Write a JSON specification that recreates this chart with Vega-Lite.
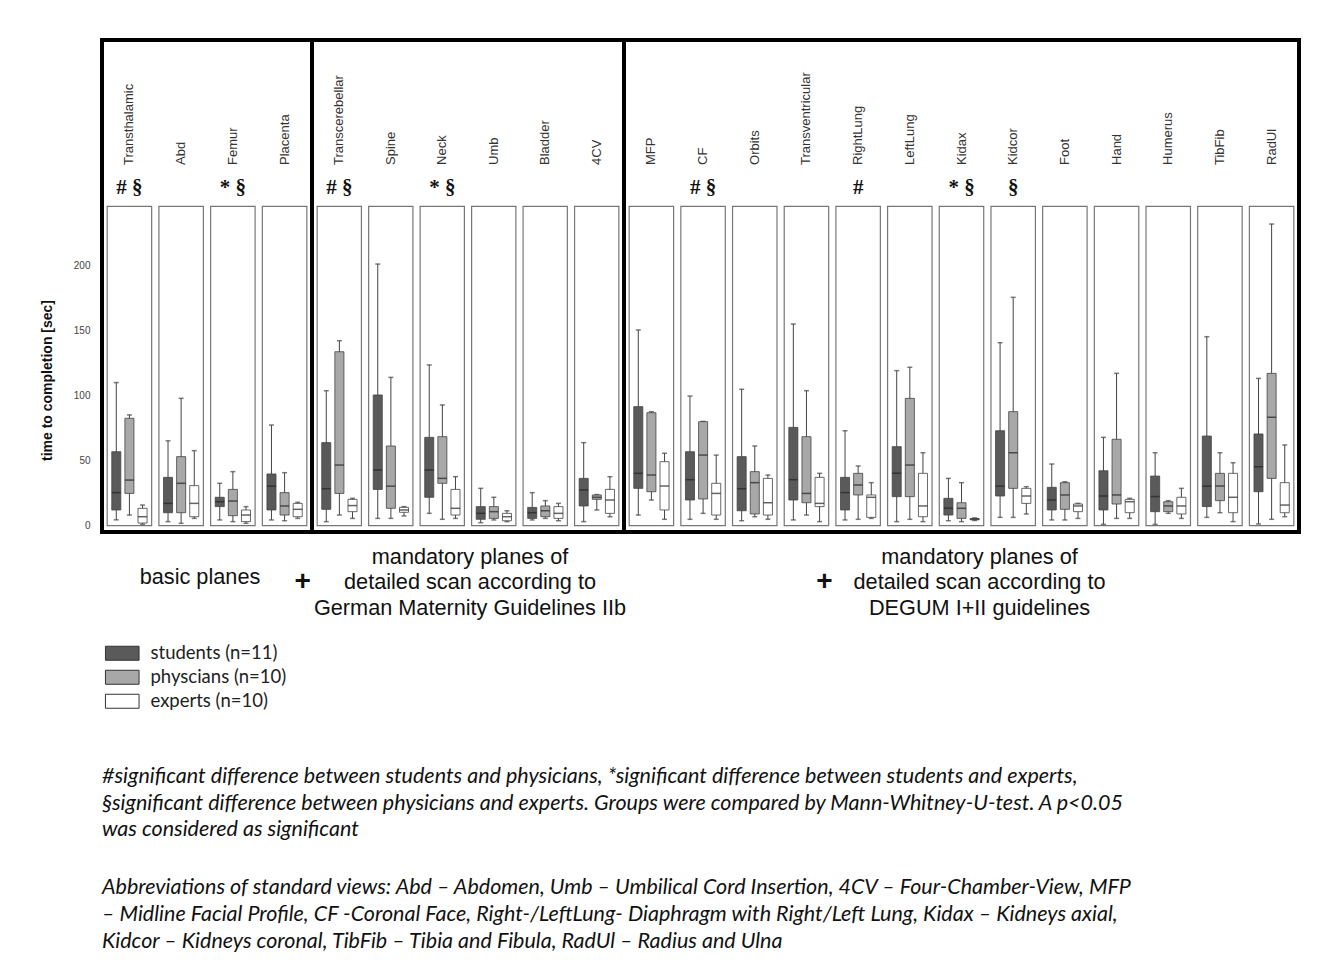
{
"$schema": "https://vega.github.io/schema/vega-lite/v6.json",
"padding": {"left": 38, "top": 38, "right": 5, "bottom": 5},
"background": "#ffffff",
"config": {"font": "Liberation Sans", "view": {"stroke": "#000000", "strokeWidth": 4}},
"datasets": {
"planes": [
{"p":"Transthalamic","s":"basic","sig":"# §"},{"p":"Abd","s":"basic","sig":""},{"p":"Femur","s":"basic","sig":"* §"},{"p":"Placenta","s":"basic","sig":""},
{"p":"Transcerebellar","s":"german","sig":"# §"},{"p":"Spine","s":"german","sig":""},{"p":"Neck","s":"german","sig":"* §"},{"p":"Umb","s":"german","sig":""},{"p":"Bladder","s":"german","sig":""},{"p":"4CV","s":"german","sig":""},
{"p":"MFP","s":"degum","sig":""},{"p":"CF","s":"degum","sig":"# §"},{"p":"Orbits","s":"degum","sig":""},{"p":"Transventricular","s":"degum","sig":""},{"p":"RightLung","s":"degum","sig":"#"},{"p":"LeftLung","s":"degum","sig":""},{"p":"Kidax","s":"degum","sig":"* §"},{"p":"Kidcor","s":"degum","sig":"§"},{"p":"Foot","s":"degum","sig":""},{"p":"Hand","s":"degum","sig":""},{"p":"Humerus","s":"degum","sig":""},{"p":"TibFib","s":"degum","sig":""},{"p":"RadUl","s":"degum","sig":""}
],
"boxes": [
{"p":"Transthalamic","s":"basic","g":"students (n=11)","lo":4,"q1":11.6,"md":25,"q3":56.6,"hi":110},
{"p":"Transthalamic","s":"basic","g":"physcians (n=10)","lo":7.7,"q1":24.4,"md":34.7,"q3":82.4,"hi":85},
{"p":"Transthalamic","s":"basic","g":"experts (n=10)","lo":0.5,"q1":1.5,"md":6.4,"q3":12.9,"hi":15.4},
{"p":"Abd","s":"basic","g":"students (n=11)","lo":2.6,"q1":9.5,"md":16.7,"q3":36.8,"hi":65},
{"p":"Abd","s":"basic","g":"physcians (n=10)","lo":1.3,"q1":9.5,"md":32.2,"q3":52.8,"hi":97.8},
{"p":"Abd","s":"basic","g":"experts (n=10)","lo":5.1,"q1":6.4,"md":16.7,"q3":30.4,"hi":57.4},
{"p":"Femur","s":"basic","g":"students (n=11)","lo":3.9,"q1":14.2,"md":18,"q3":21.4,"hi":32.2},
{"p":"Femur","s":"basic","g":"physcians (n=10)","lo":2.6,"q1":7.2,"md":18.5,"q3":27.5,"hi":41.2},
{"p":"Femur","s":"basic","g":"experts (n=10)","lo":1.3,"q1":2.6,"md":7.7,"q3":11.6,"hi":14.2},
{"p":"Placenta","s":"basic","g":"students (n=11)","lo":3.9,"q1":11.6,"md":30,"q3":39.4,"hi":77.2},
{"p":"Placenta","s":"basic","g":"physcians (n=10)","lo":3.3,"q1":7.7,"md":14.7,"q3":25,"hi":40.4},
{"p":"Placenta","s":"basic","g":"experts (n=10)","lo":5.1,"q1":6.4,"md":12.1,"q3":16.7,"hi":17.5},
{"p":"Transcerebellar","s":"german","g":"students (n=11)","lo":2.6,"q1":12.1,"md":28,"q3":63.6,"hi":103.7},
{"p":"Transcerebellar","s":"german","g":"physcians (n=10)","lo":7.7,"q1":24.4,"md":46.3,"q3":133.8,"hi":142.3},
{"p":"Transcerebellar","s":"german","g":"experts (n=10)","lo":5.1,"q1":10.3,"md":15,"q3":19.8,"hi":20.6},
{"p":"Spine","s":"german","g":"students (n=11)","lo":5.1,"q1":27.5,"md":42.5,"q3":100.4,"hi":201.5},
{"p":"Spine","s":"german","g":"physcians (n=10)","lo":5.1,"q1":12.9,"md":30,"q3":61,"hi":114},
{"p":"Spine","s":"german","g":"experts (n=10)","lo":7,"q1":9.8,"md":11.6,"q3":13.6,"hi":14.2},
{"p":"Neck","s":"german","g":"students (n=11)","lo":9,"q1":21.4,"md":42.5,"q3":67.7,"hi":123.6},
{"p":"Neck","s":"german","g":"physcians (n=10)","lo":4.4,"q1":32.2,"md":36,"q3":68.2,"hi":92.7},
{"p":"Neck","s":"german","g":"experts (n=10)","lo":5.1,"q1":7.7,"md":12.9,"q3":27.5,"hi":37.3},
{"p":"Umb","s":"german","g":"students (n=11)","lo":1.8,"q1":4.4,"md":9,"q3":14.2,"hi":28.3},
{"p":"Umb","s":"german","g":"physcians (n=10)","lo":3.9,"q1":5.1,"md":10.3,"q3":14.2,"hi":21.4},
{"p":"Umb","s":"german","g":"experts (n=10)","lo":2.6,"q1":3.3,"md":6.4,"q3":9,"hi":11},
{"p":"Bladder","s":"german","g":"students (n=11)","lo":3.9,"q1":5.1,"md":9.5,"q3":13.6,"hi":25},
{"p":"Bladder","s":"german","g":"physcians (n=10)","lo":5.1,"q1":6.4,"md":11,"q3":14.7,"hi":18.8},
{"p":"Bladder","s":"german","g":"experts (n=10)","lo":3.3,"q1":5.1,"md":9,"q3":14.2,"hi":16.7},
{"p":"4CV","s":"german","g":"students (n=11)","lo":2.6,"q1":14.7,"md":27,"q3":36,"hi":63.6},
{"p":"4CV","s":"german","g":"physcians (n=10)","lo":11.6,"q1":19.8,"md":21.4,"q3":23.2,"hi":23.5},
{"p":"4CV","s":"german","g":"experts (n=10)","lo":6.4,"q1":9,"md":19.3,"q3":27.5,"hi":37.3},
{"p":"MFP","s":"degum","g":"students (n=11)","lo":7.7,"q1":28.3,"md":39.9,"q3":91.4,"hi":150.6},
{"p":"MFP","s":"degum","g":"physcians (n=10)","lo":19.3,"q1":25.7,"md":38.6,"q3":86.7,"hi":87.5},
{"p":"MFP","s":"degum","g":"experts (n=10)","lo":4.4,"q1":11.6,"md":30.1,"q3":48.9,"hi":55.4},
{"p":"CF","s":"degum","g":"students (n=11)","lo":4.4,"q1":19.3,"md":35,"q3":56.6,"hi":99.6},
{"p":"CF","s":"degum","g":"physcians (n=10)","lo":9,"q1":20.1,"md":54,"q3":79.8,"hi":80},
{"p":"CF","s":"degum","g":"experts (n=10)","lo":4.4,"q1":7.7,"md":24.4,"q3":32.2,"hi":54},
{"p":"Orbits","s":"degum","g":"students (n=11)","lo":3.3,"q1":11,"md":28,"q3":52.8,"hi":104.8},
{"p":"Orbits","s":"degum","g":"physcians (n=10)","lo":6.4,"q1":8.5,"md":32.7,"q3":41.2,"hi":61},
{"p":"Orbits","s":"degum","g":"experts (n=10)","lo":4.4,"q1":7.7,"md":17.2,"q3":36,"hi":38.6},
{"p":"Transventricular","s":"degum","g":"students (n=11)","lo":3.9,"q1":19.3,"md":35,"q3":75.4,"hi":155.2},
{"p":"Transventricular","s":"degum","g":"physcians (n=10)","lo":7.7,"q1":17.2,"md":24.4,"q3":68.2,"hi":103.7},
{"p":"Transventricular","s":"degum","g":"experts (n=10)","lo":2.6,"q1":14.2,"md":16.7,"q3":36.8,"hi":39.9},
{"p":"RightLung","s":"degum","g":"students (n=11)","lo":3.9,"q1":11.6,"md":25,"q3":36.8,"hi":72.8},
{"p":"RightLung","s":"degum","g":"physcians (n=10)","lo":4.4,"q1":23.2,"md":30.9,"q3":39.9,"hi":45.6},
{"p":"RightLung","s":"degum","g":"experts (n=10)","lo":5.1,"q1":5.9,"md":21.4,"q3":23.2,"hi":32.7},
{"p":"LeftLung","s":"degum","g":"students (n=11)","lo":2.6,"q1":21.9,"md":40,"q3":60.5,"hi":119.2},
{"p":"LeftLung","s":"degum","g":"physcians (n=10)","lo":4.4,"q1":21.9,"md":46.3,"q3":97.8,"hi":121.8},
{"p":"LeftLung","s":"degum","g":"experts (n=10)","lo":2.6,"q1":6.4,"md":14.7,"q3":39.9,"hi":55.8},
{"p":"Kidax","s":"degum","g":"students (n=11)","lo":3.3,"q1":7.7,"md":13,"q3":20.6,"hi":36},
{"p":"Kidax","s":"degum","g":"physcians (n=10)","lo":2.6,"q1":5.1,"md":12.9,"q3":17.2,"hi":32.7},
{"p":"Kidax","s":"degum","g":"experts (n=10)","lo":3.5,"q1":4,"md":4.5,"q3":5,"hi":5.5},
{"p":"Kidcor","s":"degum","g":"students (n=11)","lo":5.9,"q1":22.4,"md":30,"q3":72.8,"hi":140.8},
{"p":"Kidcor","s":"degum","g":"physcians (n=10)","lo":5.9,"q1":28.3,"md":55.8,"q3":87.5,"hi":175.8},
{"p":"Kidcor","s":"degum","g":"experts (n=10)","lo":8.5,"q1":16.7,"md":22.4,"q3":28.3,"hi":29.6},
{"p":"Foot","s":"degum","g":"students (n=11)","lo":3.9,"q1":11.6,"md":19.3,"q3":29.1,"hi":47.1},
{"p":"Foot","s":"degum","g":"physcians (n=10)","lo":3.9,"q1":12.1,"md":23.2,"q3":32.7,"hi":33.4},
{"p":"Foot","s":"degum","g":"experts (n=10)","lo":5.1,"q1":10.3,"md":14.7,"q3":16.2,"hi":16.7},
{"p":"Hand","s":"degum","g":"students (n=11)","lo":0.5,"q1":11.6,"md":22.4,"q3":41.9,"hi":67.7},
{"p":"Hand","s":"degum","g":"physcians (n=10)","lo":5.1,"q1":16.2,"md":23.2,"q3":66.2,"hi":117.1},
{"p":"Hand","s":"degum","g":"experts (n=10)","lo":5.1,"q1":9.5,"md":18,"q3":19.8,"hi":20.6},
{"p":"Humerus","s":"degum","g":"students (n=11)","lo":0.5,"q1":10.3,"md":22,"q3":37.8,"hi":55.8},
{"p":"Humerus","s":"degum","g":"physcians (n=10)","lo":9,"q1":10.3,"md":14.7,"q3":18,"hi":18.8},
{"p":"Humerus","s":"degum","g":"experts (n=10)","lo":5.1,"q1":8.5,"md":14.7,"q3":21.4,"hi":28.3},
{"p":"TibFib","s":"degum","g":"students (n=11)","lo":5.9,"q1":14.2,"md":30,"q3":68.7,"hi":145.4},
{"p":"TibFib","s":"degum","g":"physcians (n=10)","lo":9.5,"q1":18.8,"md":30.1,"q3":39.9,"hi":55.8},
{"p":"TibFib","s":"degum","g":"experts (n=10)","lo":2.6,"q1":9.5,"md":21.4,"q3":39.9,"hi":48.1},
{"p":"RadUl","s":"degum","g":"students (n=11)","lo":0.8,"q1":25.7,"md":45,"q3":70.3,"hi":113.2},
{"p":"RadUl","s":"degum","g":"physcians (n=10)","lo":4.4,"q1":36,"md":83.2,"q3":117.1,"hi":232.4},
{"p":"RadUl","s":"degum","g":"experts (n=10)","lo":6.4,"q1":9.5,"md":15.4,"q3":32.7,"hi":61.8}
],
"plus": [{"sym": "+"}]
},
"title": {
"text": ["#significant difference between students and physicians, *significant difference between students and experts,", "§significant difference between physicians and experts. Groups were compared by Mann-Whitney-U-test. A p<0.05", "was considered as significant"],
"subtitle": ["Abbreviations of standard views: Abd – Abdomen, Umb – Umbilical Cord Insertion, 4CV – Four-Chamber-View, MFP", "– Midline Facial Profile, CF -Coronal Face, Right-/LeftLung- Diaphragm with Right/Left Lung, Kidax – Kidneys axial,", "Kidcor – Kidneys coronal, TibFib – Tibia and Fibula, RadUl – Radius and Ulna"],
"orient": "bottom", "anchor": "start", "frame": "group", "offset": 53,
"font": "Lato", "fontStyle": "italic", "fontWeight": "normal", "fontSize": 21.5, "lineHeight": 26.5, "color": "#111111",
"subtitleFont": "Lato", "subtitleFontStyle": "italic", "subtitleFontSize": 21.5, "subtitleLineHeight": 27, "subtitlePadding": 36, "subtitleColor": "#111111"
},
"resolve": {"scale": {"fill": "independent"}, "legend": {"fill": "independent"}},
"spacing": 0,
"bounds": "flush",
"hconcat": [
{
"width": 210, "height": 492,
"title": {"text": "basic planes", "orient": "top", "frame": "group", "offset": -548.5, "dx": -7, "font": "Liberation Sans", "fontSize": 21.7, "fontWeight": "normal", "color": "#111111"},
"layer": [
{"data": {"name": "planes"}, "transform": [{"filter": "datum.s === 'basic'"}],
 "mark": {"type": "rect", "fill": "#ffffff", "stroke": "#777777", "strokeWidth": 1.2},
 "encoding": {"x": {"field": "p", "type": "nominal", "scale": {"domain": ["Transthalamic","Abd","Femur","Placenta"], "paddingInner": 0.14, "paddingOuter": 0.1}, "axis": null},
  "y": {"datum": 246, "type": "quantitative", "scale": {"domain": [-5.4, 374.5], "nice": false, "zero": false},
   "axis": {"values": [0,50,100,150,200], "title": "time to completion [sec]", "titleFont": "Liberation Sans", "titleFontSize": 14, "titleFontWeight": "bold", "titleColor": "#111111", "titleX": -48, "titleY": 340, "labelFont": "Liberation Sans", "labelFontSize": 10, "labelColor": "#444444", "ticks": false, "tickSize": 0, "domain": false, "grid": false, "labelPadding": 12}},
  "y2": {"datum": -0.5}}},
{"data": {"name": "boxes"}, "transform": [{"filter": "datum.s === 'basic'"}],
 "mark": {"type": "rule", "color": "#444444", "strokeWidth": 1},
 "encoding": {"x": {"field": "p", "type": "nominal", "axis": null}, "xOffset": {"field": "g", "type": "nominal", "scale": {"domain": ["students (n=11)","physcians (n=10)","experts (n=10)"], "paddingInner": 0.31, "paddingOuter": 0.35}},
  "y": {"field": "lo", "type": "quantitative", "scale": {"domain": [-5.4, 374.5], "nice": false, "zero": false},
   "axis": {"values": [0,50,100,150,200], "title": "time to completion [sec]", "titleFont": "Liberation Sans", "titleFontSize": 14, "titleFontWeight": "bold", "titleColor": "#111111", "titleX": -48, "titleY": 340, "labelFont": "Liberation Sans", "labelFontSize": 10, "labelColor": "#444444", "ticks": false, "tickSize": 0, "domain": false, "grid": false, "labelPadding": 12}},
  "y2": {"field": "hi"}}},
{"data": {"name": "boxes"}, "transform": [{"filter": "datum.s === 'basic'"}],
 "mark": {"type": "tick", "color": "#444444", "size": 5, "thickness": 1.5},
 "encoding": {"x": {"field": "p", "type": "nominal", "axis": null}, "xOffset": {"field": "g", "type": "nominal", "scale": {"domain": ["students (n=11)","physcians (n=10)","experts (n=10)"], "paddingInner": 0.31, "paddingOuter": 0.35}},
  "y": {"field": "lo", "type": "quantitative", "scale": {"domain": [-5.4, 374.5], "nice": false, "zero": false},
   "axis": {"values": [0,50,100,150,200], "title": "time to completion [sec]", "titleFont": "Liberation Sans", "titleFontSize": 14, "titleFontWeight": "bold", "titleColor": "#111111", "titleX": -48, "titleY": 340, "labelFont": "Liberation Sans", "labelFontSize": 10, "labelColor": "#444444", "ticks": false, "tickSize": 0, "domain": false, "grid": false, "labelPadding": 12}}}},
{"data": {"name": "boxes"}, "transform": [{"filter": "datum.s === 'basic'"}],
 "mark": {"type": "tick", "color": "#444444", "size": 5, "thickness": 1.5},
 "encoding": {"x": {"field": "p", "type": "nominal", "axis": null}, "xOffset": {"field": "g", "type": "nominal", "scale": {"domain": ["students (n=11)","physcians (n=10)","experts (n=10)"], "paddingInner": 0.31, "paddingOuter": 0.35}},
  "y": {"field": "hi", "type": "quantitative", "scale": {"domain": [-5.4, 374.5], "nice": false, "zero": false},
   "axis": {"values": [0,50,100,150,200], "title": "time to completion [sec]", "titleFont": "Liberation Sans", "titleFontSize": 14, "titleFontWeight": "bold", "titleColor": "#111111", "titleX": -48, "titleY": 340, "labelFont": "Liberation Sans", "labelFontSize": 10, "labelColor": "#444444", "ticks": false, "tickSize": 0, "domain": false, "grid": false, "labelPadding": 12}}}},
{"data": {"name": "boxes"}, "transform": [{"filter": "datum.s === 'basic'"}],
 "mark": {"type": "bar", "stroke": "#444444", "strokeWidth": 0.8},
 "encoding": {"x": {"field": "p", "type": "nominal", "axis": null}, "xOffset": {"field": "g", "type": "nominal", "scale": {"domain": ["students (n=11)","physcians (n=10)","experts (n=10)"], "paddingInner": 0.31, "paddingOuter": 0.35}},
  "y": {"field": "q1", "type": "quantitative", "scale": {"domain": [-5.4, 374.5], "nice": false, "zero": false},
   "axis": {"values": [0,50,100,150,200], "title": "time to completion [sec]", "titleFont": "Liberation Sans", "titleFontSize": 14, "titleFontWeight": "bold", "titleColor": "#111111", "titleX": -48, "titleY": 340, "labelFont": "Liberation Sans", "labelFontSize": 10, "labelColor": "#444444", "ticks": false, "tickSize": 0, "domain": false, "grid": false, "labelPadding": 12}},
  "y2": {"field": "q3"},
  "fill": {"field": "g", "type": "nominal", "scale": {"domain": ["students (n=11)","physcians (n=10)","experts (n=10)"], "range": ["#5a5a5a","#a8a8a8","#ffffff"]},
   "legend": {"orient": "none", "legendX": 11, "legendY": 604, "title": null, "symbolType": "M-2.4,-1H2.4V1H-2.4Z", "symbolSize": 196, "symbolStrokeColor": "#333333", "symbolStrokeWidth": 1, "symbolOpacity": 1, "labelFont": "Lato", "labelFontSize": 18.5, "labelOffset": 19, "rowPadding": 5, "labelColor": "#222222"}}}},
{"data": {"name": "boxes"}, "transform": [{"filter": "datum.s === 'basic'"}],
 "mark": {"type": "tick", "color": "#222222", "size": 9, "thickness": 1.5},
 "encoding": {"x": {"field": "p", "type": "nominal", "axis": null}, "xOffset": {"field": "g", "type": "nominal", "scale": {"domain": ["students (n=11)","physcians (n=10)","experts (n=10)"], "paddingInner": 0.31, "paddingOuter": 0.35}},
  "y": {"field": "md", "type": "quantitative", "scale": {"domain": [-5.4, 374.5], "nice": false, "zero": false},
   "axis": {"values": [0,50,100,150,200], "title": "time to completion [sec]", "titleFont": "Liberation Sans", "titleFontSize": 14, "titleFontWeight": "bold", "titleColor": "#111111", "titleX": -48, "titleY": 340, "labelFont": "Liberation Sans", "labelFontSize": 10, "labelColor": "#444444", "ticks": false, "tickSize": 0, "domain": false, "grid": false, "labelPadding": 12}}}},
{"data": {"name": "planes"}, "transform": [{"filter": "datum.s === 'basic'"}],
 "mark": {"type": "text", "angle": 270, "align": "left", "baseline": "middle", "fontSize": 13, "font": "Liberation Sans", "color": "#333333"},
 "encoding": {"x": {"field": "p", "type": "nominal", "axis": null}, "y": {"datum": 278, "type": "quantitative", "scale": {"domain": [-5.4, 374.5], "nice": false, "zero": false},
   "axis": {"values": [0,50,100,150,200], "title": "time to completion [sec]", "titleFont": "Liberation Sans", "titleFontSize": 14, "titleFontWeight": "bold", "titleColor": "#111111", "titleX": -48, "titleY": 340, "labelFont": "Liberation Sans", "labelFontSize": 10, "labelColor": "#444444", "ticks": false, "tickSize": 0, "domain": false, "grid": false, "labelPadding": 12}}, "text": {"field": "p"}}},
{"data": {"name": "planes"}, "transform": [{"filter": "datum.s === 'basic' && datum.sig !== ''"}],
 "mark": {"type": "text", "align": "center", "baseline": "middle", "fontSize": 21, "font": "Liberation Serif", "fontWeight": "bold", "color": "#111111"},
 "encoding": {"x": {"field": "p", "type": "nominal", "axis": null}, "y": {"datum": 260.2, "type": "quantitative", "scale": {"domain": [-5.4, 374.5], "nice": false, "zero": false},
   "axis": {"values": [0,50,100,150,200], "title": "time to completion [sec]", "titleFont": "Liberation Sans", "titleFontSize": 14, "titleFontWeight": "bold", "titleColor": "#111111", "titleX": -48, "titleY": 340, "labelFont": "Liberation Sans", "labelFontSize": 10, "labelColor": "#444444", "ticks": false, "tickSize": 0, "domain": false, "grid": false, "labelPadding": 12}}, "text": {"field": "sig"}}},
{"data": {"name": "plus"},
 "mark": {"type": "text", "align": "center", "baseline": "middle", "fontSize": 28, "font": "Liberation Sans", "fontWeight": "bold", "color": "#111111", "dx": 18},
 "encoding": {"x": {"datum": "Placenta", "type": "nominal", "axis": null}, "y": {"datum": -44, "type": "quantitative", "scale": {"domain": [-5.4, 374.5], "nice": false, "zero": false},
   "axis": {"values": [0,50,100,150,200], "title": "time to completion [sec]", "titleFont": "Liberation Sans", "titleFontSize": 14, "titleFontWeight": "bold", "titleColor": "#111111", "titleX": -48, "titleY": 340, "labelFont": "Liberation Sans", "labelFontSize": 10, "labelColor": "#444444", "ticks": false, "tickSize": 0, "domain": false, "grid": false, "labelPadding": 12}}, "text": {"field": "sym"}}}
]
},
{
"width": 312, "height": 492,
"title": {"text": ["mandatory planes of", "detailed scan according to", "German Maternity Guidelines IIb"], "orient": "top", "frame": "group", "offset": -579.5, "dx": 2, "lineHeight": 25.5, "font": "Liberation Sans", "fontSize": 21.7, "fontWeight": "normal", "color": "#111111"},
"layer": [
{"data": {"name": "planes"}, "transform": [{"filter": "datum.s === 'german'"}],
 "mark": {"type": "rect", "fill": "#ffffff", "stroke": "#777777", "strokeWidth": 1.2},
 "encoding": {"x": {"field": "p", "type": "nominal", "scale": {"domain": ["Transcerebellar","Spine","Neck","Umb","Bladder","4CV"], "paddingInner": 0.14, "paddingOuter": 0.1}, "axis": null},
  "y": {"datum": 246, "type": "quantitative", "scale": {"domain": [-5.4, 374.5], "nice": false, "zero": false}, "axis": null}, "y2": {"datum": -0.5}}},
{"data": {"name": "boxes"}, "transform": [{"filter": "datum.s === 'german'"}],
 "mark": {"type": "rule", "color": "#444444", "strokeWidth": 1},
 "encoding": {"x": {"field": "p", "type": "nominal", "axis": null}, "xOffset": {"field": "g", "type": "nominal", "scale": {"domain": ["students (n=11)","physcians (n=10)","experts (n=10)"], "paddingInner": 0.31, "paddingOuter": 0.35}},
  "y": {"field": "lo", "type": "quantitative", "scale": {"domain": [-5.4, 374.5], "nice": false, "zero": false}, "axis": null}, "y2": {"field": "hi"}}},
{"data": {"name": "boxes"}, "transform": [{"filter": "datum.s === 'german'"}],
 "mark": {"type": "tick", "color": "#444444", "size": 5, "thickness": 1.5},
 "encoding": {"x": {"field": "p", "type": "nominal", "axis": null}, "xOffset": {"field": "g", "type": "nominal", "scale": {"domain": ["students (n=11)","physcians (n=10)","experts (n=10)"], "paddingInner": 0.31, "paddingOuter": 0.35}},
  "y": {"field": "lo", "type": "quantitative", "scale": {"domain": [-5.4, 374.5], "nice": false, "zero": false}, "axis": null}}},
{"data": {"name": "boxes"}, "transform": [{"filter": "datum.s === 'german'"}],
 "mark": {"type": "tick", "color": "#444444", "size": 5, "thickness": 1.5},
 "encoding": {"x": {"field": "p", "type": "nominal", "axis": null}, "xOffset": {"field": "g", "type": "nominal", "scale": {"domain": ["students (n=11)","physcians (n=10)","experts (n=10)"], "paddingInner": 0.31, "paddingOuter": 0.35}},
  "y": {"field": "hi", "type": "quantitative", "scale": {"domain": [-5.4, 374.5], "nice": false, "zero": false}, "axis": null}}},
{"data": {"name": "boxes"}, "transform": [{"filter": "datum.s === 'german'"}],
 "mark": {"type": "bar", "stroke": "#444444", "strokeWidth": 0.8},
 "encoding": {"x": {"field": "p", "type": "nominal", "axis": null}, "xOffset": {"field": "g", "type": "nominal", "scale": {"domain": ["students (n=11)","physcians (n=10)","experts (n=10)"], "paddingInner": 0.31, "paddingOuter": 0.35}},
  "y": {"field": "q1", "type": "quantitative", "scale": {"domain": [-5.4, 374.5], "nice": false, "zero": false}, "axis": null}, "y2": {"field": "q3"},
  "fill": {"field": "g", "type": "nominal", "scale": {"domain": ["students (n=11)","physcians (n=10)","experts (n=10)"], "range": ["#5a5a5a","#a8a8a8","#ffffff"]}, "legend": null}}},
{"data": {"name": "boxes"}, "transform": [{"filter": "datum.s === 'german'"}],
 "mark": {"type": "tick", "color": "#222222", "size": 9, "thickness": 1.5},
 "encoding": {"x": {"field": "p", "type": "nominal", "axis": null}, "xOffset": {"field": "g", "type": "nominal", "scale": {"domain": ["students (n=11)","physcians (n=10)","experts (n=10)"], "paddingInner": 0.31, "paddingOuter": 0.35}},
  "y": {"field": "md", "type": "quantitative", "scale": {"domain": [-5.4, 374.5], "nice": false, "zero": false}, "axis": null}}},
{"data": {"name": "planes"}, "transform": [{"filter": "datum.s === 'german'"}],
 "mark": {"type": "text", "angle": 270, "align": "left", "baseline": "middle", "fontSize": 13, "font": "Liberation Sans", "color": "#333333"},
 "encoding": {"x": {"field": "p", "type": "nominal", "axis": null}, "y": {"datum": 278, "type": "quantitative", "scale": {"domain": [-5.4, 374.5], "nice": false, "zero": false}, "axis": null}, "text": {"field": "p"}}},
{"data": {"name": "planes"}, "transform": [{"filter": "datum.s === 'german' && datum.sig !== ''"}],
 "mark": {"type": "text", "align": "center", "baseline": "middle", "fontSize": 21, "font": "Liberation Serif", "fontWeight": "bold", "color": "#111111"},
 "encoding": {"x": {"field": "p", "type": "nominal", "axis": null}, "y": {"datum": 260.2, "type": "quantitative", "scale": {"domain": [-5.4, 374.5], "nice": false, "zero": false}, "axis": null}, "text": {"field": "sig"}}}
]
},
{
"width": 675, "height": 492,
"title": {"text": ["mandatory planes of", "detailed scan according to", "DEGUM I+II guidelines"], "orient": "top", "frame": "group", "offset": -579.5, "dx": 18, "lineHeight": 25.5, "font": "Liberation Sans", "fontSize": 21.7, "fontWeight": "normal", "color": "#111111"},
"layer": [
{"data": {"name": "planes"}, "transform": [{"filter": "datum.s === 'degum'"}],
 "mark": {"type": "rect", "fill": "#ffffff", "stroke": "#777777", "strokeWidth": 1.2},
 "encoding": {"x": {"field": "p", "type": "nominal", "scale": {"domain": ["MFP","CF","Orbits","Transventricular","RightLung","LeftLung","Kidax","Kidcor","Foot","Hand","Humerus","TibFib","RadUl"], "paddingInner": 0.14, "paddingOuter": 0.1}, "axis": null},
  "y": {"datum": 246, "type": "quantitative", "scale": {"domain": [-5.4, 374.5], "nice": false, "zero": false}, "axis": null}, "y2": {"datum": -0.5}}},
{"data": {"name": "boxes"}, "transform": [{"filter": "datum.s === 'degum'"}],
 "mark": {"type": "rule", "color": "#444444", "strokeWidth": 1},
 "encoding": {"x": {"field": "p", "type": "nominal", "axis": null}, "xOffset": {"field": "g", "type": "nominal", "scale": {"domain": ["students (n=11)","physcians (n=10)","experts (n=10)"], "paddingInner": 0.31, "paddingOuter": 0.35}},
  "y": {"field": "lo", "type": "quantitative", "scale": {"domain": [-5.4, 374.5], "nice": false, "zero": false}, "axis": null}, "y2": {"field": "hi"}}},
{"data": {"name": "boxes"}, "transform": [{"filter": "datum.s === 'degum'"}],
 "mark": {"type": "tick", "color": "#444444", "size": 5, "thickness": 1.5},
 "encoding": {"x": {"field": "p", "type": "nominal", "axis": null}, "xOffset": {"field": "g", "type": "nominal", "scale": {"domain": ["students (n=11)","physcians (n=10)","experts (n=10)"], "paddingInner": 0.31, "paddingOuter": 0.35}},
  "y": {"field": "lo", "type": "quantitative", "scale": {"domain": [-5.4, 374.5], "nice": false, "zero": false}, "axis": null}}},
{"data": {"name": "boxes"}, "transform": [{"filter": "datum.s === 'degum'"}],
 "mark": {"type": "tick", "color": "#444444", "size": 5, "thickness": 1.5},
 "encoding": {"x": {"field": "p", "type": "nominal", "axis": null}, "xOffset": {"field": "g", "type": "nominal", "scale": {"domain": ["students (n=11)","physcians (n=10)","experts (n=10)"], "paddingInner": 0.31, "paddingOuter": 0.35}},
  "y": {"field": "hi", "type": "quantitative", "scale": {"domain": [-5.4, 374.5], "nice": false, "zero": false}, "axis": null}}},
{"data": {"name": "boxes"}, "transform": [{"filter": "datum.s === 'degum'"}],
 "mark": {"type": "bar", "stroke": "#444444", "strokeWidth": 0.8},
 "encoding": {"x": {"field": "p", "type": "nominal", "axis": null}, "xOffset": {"field": "g", "type": "nominal", "scale": {"domain": ["students (n=11)","physcians (n=10)","experts (n=10)"], "paddingInner": 0.31, "paddingOuter": 0.35}},
  "y": {"field": "q1", "type": "quantitative", "scale": {"domain": [-5.4, 374.5], "nice": false, "zero": false}, "axis": null}, "y2": {"field": "q3"},
  "fill": {"field": "g", "type": "nominal", "scale": {"domain": ["students (n=11)","physcians (n=10)","experts (n=10)"], "range": ["#5a5a5a","#a8a8a8","#ffffff"]}, "legend": null}}},
{"data": {"name": "boxes"}, "transform": [{"filter": "datum.s === 'degum'"}],
 "mark": {"type": "tick", "color": "#222222", "size": 9, "thickness": 1.5},
 "encoding": {"x": {"field": "p", "type": "nominal", "axis": null}, "xOffset": {"field": "g", "type": "nominal", "scale": {"domain": ["students (n=11)","physcians (n=10)","experts (n=10)"], "paddingInner": 0.31, "paddingOuter": 0.35}},
  "y": {"field": "md", "type": "quantitative", "scale": {"domain": [-5.4, 374.5], "nice": false, "zero": false}, "axis": null}}},
{"data": {"name": "planes"}, "transform": [{"filter": "datum.s === 'degum'"}],
 "mark": {"type": "text", "angle": 270, "align": "left", "baseline": "middle", "fontSize": 13, "font": "Liberation Sans", "color": "#333333"},
 "encoding": {"x": {"field": "p", "type": "nominal", "axis": null}, "y": {"datum": 278, "type": "quantitative", "scale": {"domain": [-5.4, 374.5], "nice": false, "zero": false}, "axis": null}, "text": {"field": "p"}}},
{"data": {"name": "planes"}, "transform": [{"filter": "datum.s === 'degum' && datum.sig !== ''"}],
 "mark": {"type": "text", "align": "center", "baseline": "middle", "fontSize": 21, "font": "Liberation Serif", "fontWeight": "bold", "color": "#111111"},
 "encoding": {"x": {"field": "p", "type": "nominal", "axis": null}, "y": {"datum": 260.2, "type": "quantitative", "scale": {"domain": [-5.4, 374.5], "nice": false, "zero": false}, "axis": null}, "text": {"field": "sig"}}},
{"data": {"name": "plus"},
 "mark": {"type": "text", "align": "center", "baseline": "middle", "fontSize": 28, "font": "Liberation Sans", "fontWeight": "bold", "color": "#111111", "dx": 18},
 "encoding": {"x": {"datum": "Transventricular", "type": "nominal", "axis": null}, "y": {"datum": -44, "type": "quantitative", "scale": {"domain": [-5.4, 374.5], "nice": false, "zero": false}, "axis": null}, "text": {"field": "sym"}}}
]
}
]
}
